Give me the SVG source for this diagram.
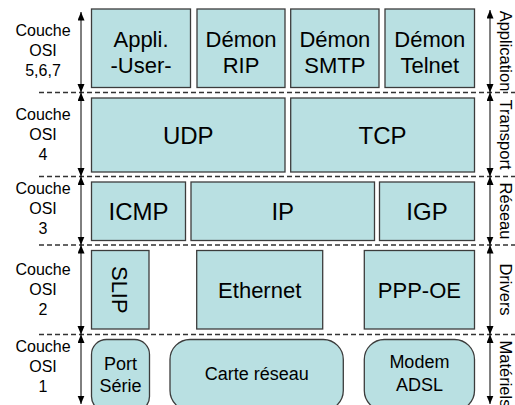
<svg xmlns="http://www.w3.org/2000/svg" width="515" height="405" viewBox="0 0 515 405">
<style>
.box{fill:#b9e0e2;stroke:#3c3c3c;stroke-width:1.3}
.t{font-family:"Liberation Sans",Arial,sans-serif;fill:#000;text-anchor:middle}
.t22{font-size:22px}
.t24{font-size:24px}
.t18{font-size:18px}
.side{font-family:"Liberation Sans",Arial,sans-serif;font-size:16px;text-anchor:middle;fill:#000}
.dash{stroke:#333;stroke-width:1.3;stroke-dasharray:5,3;fill:none}
.arr{stroke:#000;stroke-width:1;fill:none;marker-start:url(#ah);marker-end:url(#ah)}
</style>
<defs>
<marker id="ah" markerUnits="userSpaceOnUse" markerWidth="9" markerHeight="8" refX="8.5" refY="3.5" orient="auto-start-reverse">
<path d="M0,0 L8.5,3.5 L0,7 z" fill="#000"/>
</marker>
</defs>
<rect width="515" height="405" fill="#fff"/>

<g id="connectors">
<line class="dash" x1="39" y1="92.5" x2="515" y2="92.5"/>
<line class="dash" x1="39" y1="176.5" x2="515" y2="176.5"/>
<line class="dash" x1="39" y1="245" x2="515" y2="245"/>
<line class="dash" x1="39" y1="334.5" x2="515" y2="334.5"/>
<line class="arr" x1="81" y1="12" x2="81" y2="92.5"/>
<line class="arr" x1="81" y1="92.5" x2="81" y2="176.5"/>
<line class="arr" x1="81" y1="176.5" x2="81" y2="245"/>
<line class="arr" x1="81" y1="245" x2="81" y2="334.5"/>
<line class="arr" x1="81" y1="334.5" x2="81" y2="404"/>
<line class="arr" x1="490" y1="10" x2="490" y2="92.5"/>
<line class="arr" x1="490" y1="92.5" x2="490" y2="176.5"/>
<line class="arr" x1="490" y1="176.5" x2="490" y2="245"/>
<line class="arr" x1="490" y1="245" x2="490" y2="334.5"/>
<line class="arr" x1="490" y1="334.5" x2="490" y2="404"/>
</g>

<g id="labels-left">
<text class="side"><tspan x="43" y="36">Couche</tspan><tspan x="43" y="56">OSI</tspan><tspan x="43" y="76">5,6,7</tspan></text>
<text class="side"><tspan x="43" y="120">Couche</tspan><tspan x="43" y="140">OSI</tspan><tspan x="43" y="160">4</tspan></text>
<text class="side"><tspan x="43" y="194">Couche</tspan><tspan x="43" y="214">OSI</tspan><tspan x="43" y="234">3</tspan></text>
<text class="side"><tspan x="43" y="275">Couche</tspan><tspan x="43" y="295">OSI</tspan><tspan x="43" y="315">2</tspan></text>
<text class="side"><tspan x="43" y="352">Couche</tspan><tspan x="43" y="372">OSI</tspan><tspan x="43" y="392">1</tspan></text>
</g>

<g id="labels-right">
<text class="side" transform="translate(500,51) rotate(90)" style="font-size:16.5px">Application</text>
<text class="side" transform="translate(500,134.5) rotate(90)" style="font-size:16.5px">Transport</text>
<text class="side" transform="translate(500,211) rotate(90)" style="font-size:16.5px">Réseau</text>
<text class="side" transform="translate(500,289.5) rotate(90)" style="font-size:16.5px">Drivers</text>
<text class="side" transform="translate(500,374) rotate(90)" style="font-size:16.5px">Matériels</text>
</g>

<g id="appli-user">
<rect class="box" x="91.5" y="9" width="99" height="78.5"/>
<text class="t t22"><tspan x="141" y="46.5">Appli.</tspan><tspan x="141" y="73">-User-</tspan></text>
</g>
<g id="demon-rip">
<rect class="box" x="197" y="9" width="88" height="78.5"/>
<text class="t t22"><tspan x="241" y="46.5">Démon</tspan><tspan x="241" y="73">RIP</tspan></text>
</g>
<g id="demon-smtp">
<rect class="box" x="290.7" y="9" width="88.3" height="78.5"/>
<text class="t t22"><tspan x="334.9" y="46.5">Démon</tspan><tspan x="334.9" y="73">SMTP</tspan></text>
</g>
<g id="demon-telnet">
<rect class="box" x="385" y="9" width="89.5" height="78.5"/>
<text class="t t22"><tspan x="429.8" y="46.5">Démon</tspan><tspan x="429.8" y="73">Telnet</tspan></text>
</g>

<g id="udp">
<rect class="box" x="91.5" y="98" width="193.5" height="74"/>
<text class="t t24" x="188.3" y="143.5">UDP</text>
</g>
<g id="tcp">
<rect class="box" x="290.7" y="98" width="183.8" height="74"/>
<text class="t t24" x="382.6" y="143.5">TCP</text>
</g>

<g id="icmp">
<rect class="box" x="91.5" y="182" width="94" height="58.5"/>
<text class="t t24" x="138.5" y="220">ICMP</text>
</g>
<g id="ip">
<rect class="box" x="191" y="182" width="183.5" height="58.5"/>
<text class="t t24" x="282.8" y="220">IP</text>
</g>
<g id="igp">
<rect class="box" x="379.5" y="182" width="95" height="58.5"/>
<text class="t t24" x="427" y="220">IGP</text>
</g>

<g id="slip">
<rect class="box" x="91.5" y="250.5" width="57.5" height="78.5"/>
<text class="t t22" transform="translate(112,289.8) rotate(90)">SLIP</text>
</g>
<g id="ethernet">
<rect class="box" x="196.7" y="250.5" width="126" height="78.5"/>
<text class="t t22" x="259.7" y="297.5">Ethernet</text>
</g>
<g id="ppp-oe">
<rect class="box" x="364.3" y="250.5" width="110.2" height="78.5"/>
<text class="t t22" x="419.4" y="297.5">PPP-OE</text>
</g>

<g id="port-serie">
<rect class="box" x="91.5" y="339.5" width="58" height="72" rx="15" ry="15"/>
<text class="t t18"><tspan x="120.5" y="370">Port</tspan><tspan x="120.5" y="392">Série</tspan></text>
</g>
<g id="carte-reseau">
<rect class="box" x="170" y="339.5" width="173.3" height="71" rx="20" ry="20"/>
<text class="t t18" x="256.7" y="380">Carte réseau</text>
</g>
<g id="modem-adsl">
<rect class="box" x="364.3" y="339.5" width="110.2" height="71" rx="20" ry="20"/>
<text class="t t18"><tspan x="419.4" y="368">Modem</tspan><tspan x="419.4" y="391">ADSL</tspan></text>
</g>
</svg>
